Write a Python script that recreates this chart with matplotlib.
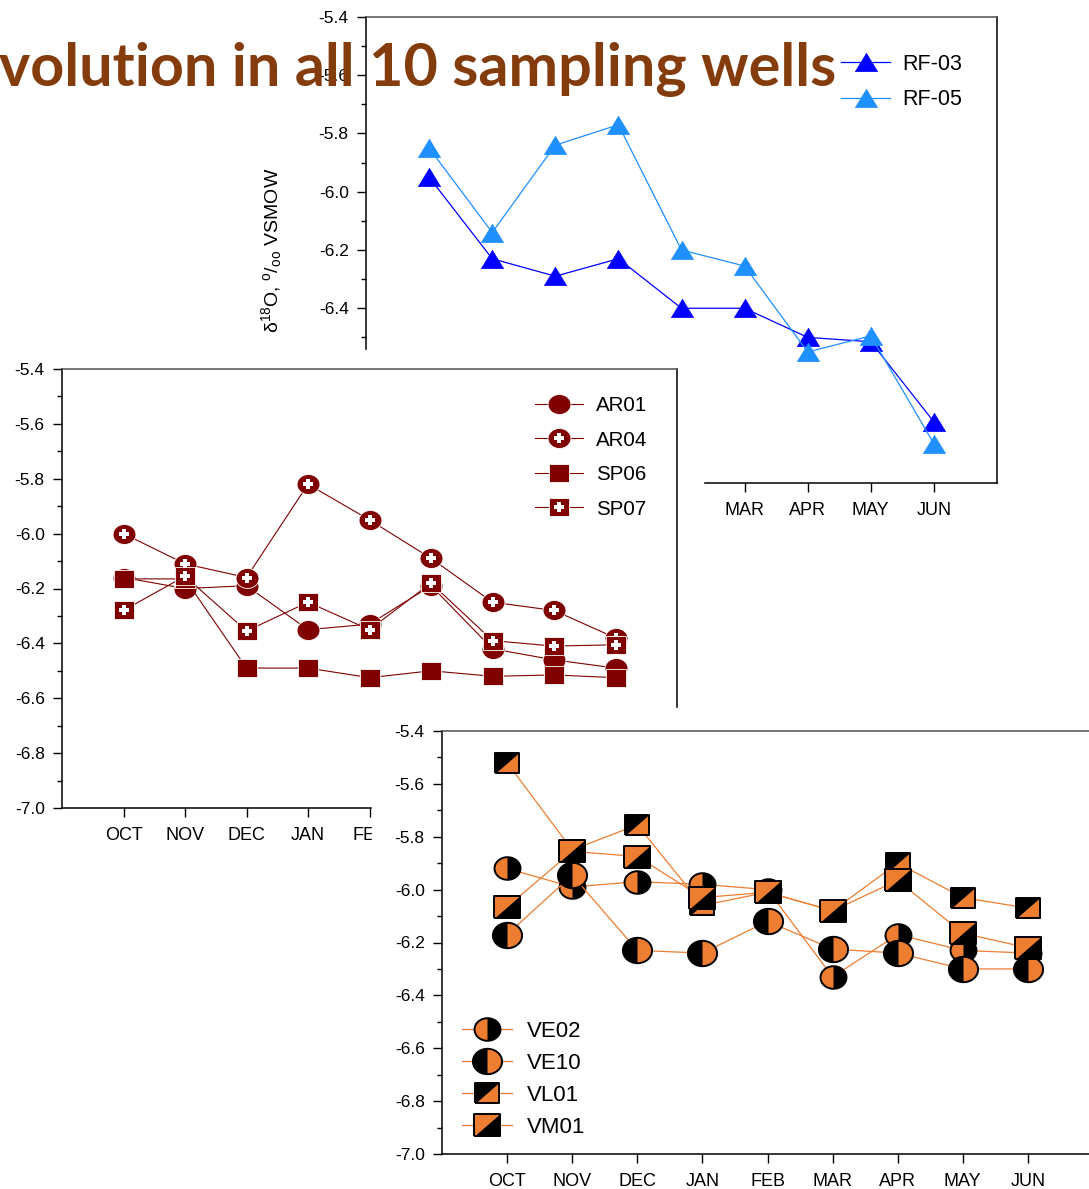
import numpy as np
import matplotlib
matplotlib.use('Agg')
import matplotlib.pyplot as plt
from matplotlib.patches import Rectangle

plt.rcParams['font.family'] = ['Liberation Sans', 'DejaVu Sans']
plt.rcParams['mathtext.fontset'] = 'custom'
plt.rcParams['mathtext.rm'] = 'Liberation Sans'
plt.rcParams['mathtext.it'] = 'Liberation Sans:italic'
plt.rcParams['axes.unicode_minus'] = False

# data (delta 18O, per mil VSMOW)
months = ['OCT', 'NOV', 'DEC', 'JAN', 'FEB', 'MAR', 'APR', 'MAY', 'JUN']

rf03 = [-5.95, -6.23, -6.29, -6.23, -6.40, -6.40, -6.50, -6.515, -6.79]
rf05 = [-5.85, -6.14, -5.84, -5.77, -6.20, -6.255, -6.55, -6.495, -6.865]

ar01 = [-6.16, -6.20, -6.19, -6.35, -6.33, -6.19, -6.42, -6.46, -6.49]
ar04 = [-6.00, -6.11, -6.16, -5.82, -5.95, -6.09, -6.25, -6.28, -6.38]
sp06 = [-6.165, -6.165, -6.49, -6.49, -6.525, -6.50, -6.52, -6.515, -6.525]
sp07 = [-6.28, -6.155, -6.355, -6.25, -6.35, -6.18, -6.39, -6.41, -6.405]

ve02 = [-5.92, -5.99, -5.97, -5.98, -6.00, -6.33, -6.17, -6.23, -6.24]
ve10 = [-6.17, -5.945, -6.23, -6.24, -6.12, -6.225, -6.24, -6.30, -6.30]
vl01 = [-5.52, -5.85, -5.755, -6.06, -6.01, -6.08, -5.90, -6.03, -6.07]
vm01 = [-6.065, -5.855, -5.875, -6.03, -6.01, -6.08, -5.965, -6.165, -6.22]

x = np.arange(len(months))

# marker shapes (slightly wider than tall, like the source picture)
asp = 0.87
t = np.linspace(0, 2 * np.pi, 73)
ell = np.column_stack([np.cos(t), asp * np.sin(t)])
tl = np.linspace(np.pi / 2, 3 * np.pi / 2, 37)
ell_left = np.column_stack([np.cos(tl), asp * np.sin(tl)])
ell_right = np.column_stack([-np.cos(tl), asp * np.sin(tl)])
rect = [(-1, -asp), (1, -asp), (1, asp), (-1, asp), (-1, -asp)]
tri_lr = [(-1, -asp), (1, -asp), (1, asp), (-1, -asp)]
tri_ul = [(-1, -asp), (1, asp), (-1, asp), (-1, -asp)]
tri = [(0, 0.82), (-1, -0.82), (1, -0.82), (0, 0.82)]

W, H = 1089, 1189
fig = plt.figure(figsize=(W / 100, H / 100), dpi=100)


def box(l, t, r, b):
    return [l / W, 1 - b / H, (r - l) / W, (b - t) / H]


def style(ax, xpad=7):
    ax.set_xlim(-1, 9)
    ax.set_xticks(x)
    ax.set_xticklabels(months)
    ax.set_yticks(np.round(np.arange(-7.0, -5.39, 0.2), 1))
    ax.set_yticks(np.round(np.arange(-6.9, -5.4, 0.2), 1), minor=True)
    ax.yaxis.set_major_formatter('{x:.1f}')
    ax.set_ylim(-7.0, -5.4)
    ax.tick_params(axis='both', which='major', direction='out', length=6.5, width=1.0,
                   top=False, right=False)
    ax.tick_params(axis='y', which='minor', direction='out', length=3.5, width=1.0, right=False)
    ax.tick_params(axis='x', which='minor', bottom=False, top=False)
    ax.tick_params(axis='y', labelsize=12.5, pad=6)
    ax.tick_params(axis='x', labelsize=13, pad=xpad)
    for s in ['left', 'right', 'bottom']:
        ax.spines[s].set_linewidth(1.1)
        ax.spines[s].set_color('black')
    ax.spines['top'].set_linewidth(1.1)
    ax.spines['top'].set_color('#505050')


ax1 = fig.add_axes(box(366, 17, 997, 483), zorder=1)
ax2 = fig.add_axes(box(62, 369, 677, 808), zorder=3)
ax3 = fig.add_axes(box(442, 731, 1093, 1154), zorder=5)

# white backgrounds of the overlapping panels
fig.add_artist(Rectangle((0, 1 - 708 / H), 703 / W, (708 - 350) / H,
                         transform=fig.transFigure, color='white', zorder=2))
fig.add_artist(Rectangle((372 / W, 0), 1 - 372 / W, 1 - 708 / H,
                         transform=fig.transFigure, color='white', zorder=4))

# ---- top panel: RF wells
style(ax1, xpad=7.5)
for i, (y, c, lab) in enumerate([(rf03, '#0000FF', 'RF-03'), (rf05, '#1E90FF', 'RF-05')]):
    ax1.plot(x, y, color=c, lw=0.9, marker=tri, ms=16, mfc=c, mec=c, mew=0.5,
             label=lab, zorder=2 + i)
ax1.set_ylabel('δ$^{18}$O, $^{\\mathrm{o}}$/$_{\\mathrm{oo}}$ VSMOW', fontsize=14)
ax1.yaxis.set_label_coords(-0.13, 0.5)
ax1.legend(loc='upper left', bbox_to_anchor=(830 / W, 1 - 43 / H), bbox_transform=fig.transFigure,
           frameon=False, fontsize=15.5, borderpad=0, handlelength=2.3, handletextpad=0.55,
           labelspacing=0.68)

# ---- middle panel: AR / SP wells
style(ax2)
dark = '#800000'
handles2 = []
labels2 = []
mid = [(ar01, ell, 16.5, False, 'AR01'), (ar04, ell, 16.5, True, 'AR04'),
       (sp06, rect, 15, False, 'SP06'), (sp07, rect, 15, True, 'SP07')]
for i, (y, m, ms, cross, lab) in enumerate(mid):
    ln, = ax2.plot(x, y, color=dark, lw=0.8, marker=m, ms=ms, mfc=dark, mec='white',
                   mew=0.6, zorder=2 + i)
    h = ln
    if cross:
        cr, = ax2.plot(x, y, ls='none', marker='P', ms=7.5, mfc='white', mec='white',
                       mew=0, zorder=2 + i)
        h = (ln, cr)
    handles2.append(h)
    labels2.append(lab)
ax2.legend(handles2, labels2, loc='upper left', bbox_to_anchor=(525 / W, 1 - 386 / H),
           bbox_transform=fig.transFigure, frameon=False, fontsize=14.8, borderpad=0,
           handlelength=2.34, handletextpad=0.63, labelspacing=0.75)

# ---- bottom panel: VE / VL / VM wells
style(ax3)
orange = '#ED7D31'
handles3 = []
labels3 = []
bot = [(ve02, ell, ell_left, 18.7, 'VE02'), (ve10, ell, ell_right, 21, 'VE10'),
       (vl01, rect, tri_lr, 16.6, 'VL01'), (vm01, rect, tri_ul, 18.7, 'VM01')]
for i, (y, base, half, ms, lab) in enumerate(bot):
    z = 2 + i
    ln, = ax3.plot(x, y, color=orange, lw=0.9, zorder=z)
    b, = ax3.plot(x, y, ls='none', marker=base, ms=ms, mfc='black', mec='none', zorder=z)
    hf, = ax3.plot(x, y, ls='none', marker=half, ms=ms, mfc=orange, mec='none', zorder=z)
    ol, = ax3.plot(x, y, ls='none', marker=base, ms=ms, mfc='none', mec='black', mew=1.4, zorder=z)
    handles3.append((ln, b, hf, ol))
    labels3.append(lab)
ax3.legend(handles3, labels3, loc='upper left', bbox_to_anchor=(451 / W, 1 - 1010 / H),
           bbox_transform=fig.transFigure, frameon=False, fontsize=16, borderpad=0,
           handlelength=2.25, handletextpad=0.66, labelspacing=0.49)

# ---- slide title (cut at the left edge in the source)
title = fig.text(836 / W, 1 - 86 / H, 'volution in all 10 sampling wells', ha='right',
                 va='baseline', fontsize=40, fontweight='bold', family='Lato',
                 color='#843C0C', zorder=10)
r = fig.canvas.get_renderer()
w = title.get_window_extent(r).width
title.set_fontsize(40 * 835 / w)

fig.savefig('out.png', dpi=100)
